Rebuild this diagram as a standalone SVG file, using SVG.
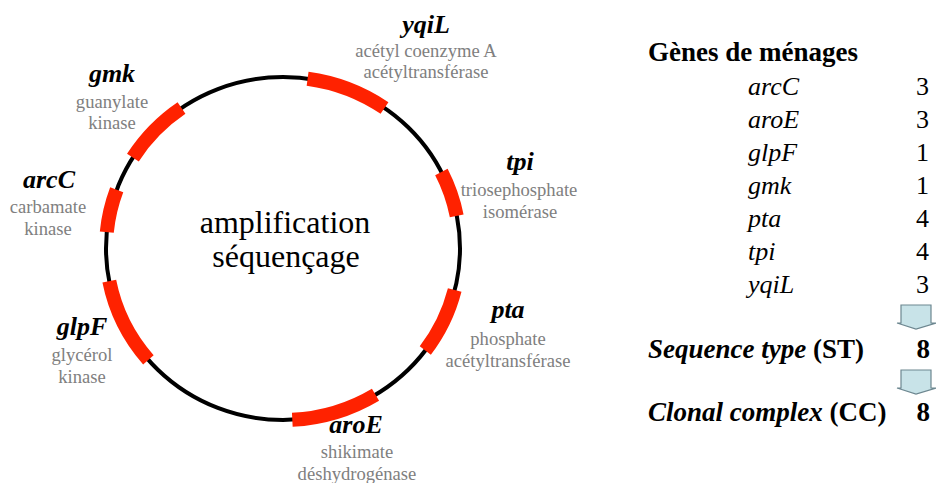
<svg xmlns="http://www.w3.org/2000/svg" width="936" height="483" viewBox="0 0 936 483">
<style>
text{font-family:"Liberation Serif","Times New Roman",serif}
.gene{font-size:26px;font-weight:bold;font-style:italic;fill:#000;text-anchor:middle}
.desc{font-size:18.6px;fill:#808080;text-anchor:middle}
.center{font-size:32px;fill:#000;text-anchor:middle}
.seg{fill:none;stroke:#ff2200;stroke-width:14;stroke-linecap:butt}
.list{font-size:26px;font-style:italic;fill:#000}
.num{font-size:26px;fill:#000;text-anchor:end}
.big{font-size:27px;font-weight:bold;fill:#000}
.arrow{fill:#c8e3e8;stroke:#6d8790;stroke-width:1.2}
</style>
<rect width="936" height="483" fill="#fff"/>
<g id="chromosome">
<ellipse cx="283" cy="248.5" rx="177" ry="171.5" fill="none" stroke="#000" stroke-width="4"/>
<text class="center" x="285" y="233">amplification</text>
<text class="center" x="286" y="267">séquençage</text>
</g>
<g id="connectors">
<path class="seg" d="M307.6,78.7 A177,171.5 0 0 1 384.5,108"/>
<path class="seg" d="M441.4,172 A177,171.5 0 0 1 456.7,215.8"/>
<path class="seg" d="M454.7,290 A177,171.5 0 0 1 425.3,350.5"/>
<path class="seg" d="M375.5,394.7 A177,171.5 0 0 1 292.3,419.8"/>
<path class="seg" d="M148.4,359.9 A177,171.5 0 0 1 109.3,281.2"/>
<path class="seg" d="M106.8,232.1 A177,171.5 0 0 1 116.7,189.8"/>
<path class="seg" d="M132.9,157.6 A177,171.5 0 0 1 181.5,108"/>
</g>
<g id="yqiL">
<text class="gene" x="426" y="33">yqiL</text>
<text class="desc" x="426" y="57">acétyl coenzyme A</text>
<text class="desc" x="426" y="78">acétyltransférase</text>
</g>
<g id="tpi">
<text class="gene" x="520" y="170">tpi</text>
<text class="desc" x="519" y="196">triosephosphate</text>
<text class="desc" x="520" y="218">isomérase</text>
</g>
<g id="pta">
<text class="gene" x="508" y="318">pta</text>
<text class="desc" x="508" y="345">phosphate</text>
<text class="desc" x="508" y="367">acétyltransférase</text>
</g>
<g id="aroE">
<text class="gene" x="356" y="433">aroE</text>
<text class="desc" x="357" y="458">shikimate</text>
<text class="desc" x="357" y="480">déshydrogénase</text>
</g>
<g id="glpF">
<text class="gene" x="82" y="335">glpF</text>
<text class="desc" x="82" y="361">glycérol</text>
<text class="desc" x="82" y="383">kinase</text>
</g>
<g id="arcC">
<text class="gene" x="49" y="188">arcC</text>
<text class="desc" x="48" y="213">carbamate</text>
<text class="desc" x="48" y="235">kinase</text>
</g>
<g id="gmk">
<text class="gene" x="112" y="82">gmk</text>
<text class="desc" x="112" y="108">guanylate</text>
<text class="desc" x="112" y="129">kinase</text>
</g>
<g id="table">
<text class="big" x="648" y="61">Gènes de ménages</text>
<text class="list" x="748" y="95">arcC</text><text class="num" x="929" y="95">3</text>
<text class="list" x="748" y="128">aroE</text><text class="num" x="929" y="128">3</text>
<text class="list" x="748" y="161">glpF</text><text class="num" x="929" y="161">1</text>
<text class="list" x="748" y="194">gmk</text><text class="num" x="929" y="194">1</text>
<text class="list" x="748" y="227">pta</text><text class="num" x="929" y="227">4</text>
<text class="list" x="748" y="260">tpi</text><text class="num" x="929" y="260">4</text>
<text class="list" x="748" y="293">yqiL</text><text class="num" x="929" y="293">3</text>
</g>
<g id="arrow1"><path class="arrow" d="M901,305 H931 V323 H936 L916,329 L897,323 H901 Z"/></g>
<g id="st">
<text class="big" x="648" y="358"><tspan font-style="italic">Sequence type</tspan> (ST)</text>
<text class="big" x="930" y="358" text-anchor="end">8</text>
</g>
<g id="arrow2"><path class="arrow" d="M901,370 H931 V388 H936 L916,394 L897,388 H901 Z"/></g>
<g id="cc">
<text class="big" x="648" y="421"><tspan font-style="italic">Clonal complex</tspan> (CC)</text>
<text class="big" x="930" y="421" text-anchor="end">8</text>
</g>
</svg>
